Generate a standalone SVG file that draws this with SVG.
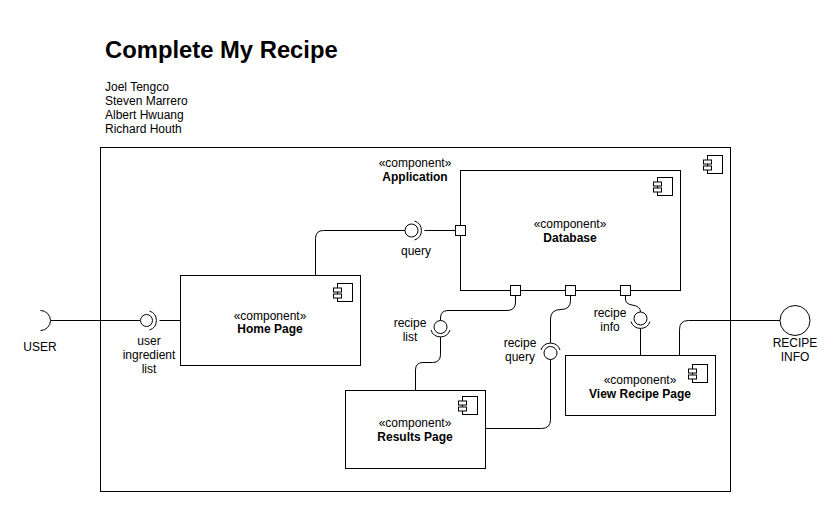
<svg xmlns="http://www.w3.org/2000/svg" width="839" height="513" viewBox="0 0 839 513">
<style>
.box{fill:#fff;stroke:#000;stroke-width:1}
.ic{fill:#fff;stroke:#000;stroke-width:1}
.ln{fill:none;stroke:#000;stroke-width:1}
.port{fill:#fff;stroke:#000;stroke-width:1}
text{font-family:"Liberation Sans",Arial,sans-serif;font-size:12px;fill:#000}
.c{text-anchor:middle}
.b{font-weight:bold}
</style>
<defs>
<g id="icon">
<rect class="ic" x="0" y="0" width="15" height="18"/>
<rect class="ic" x="-4" y="4.5" width="8" height="4"/>
<rect class="ic" x="-4" y="10.5" width="8" height="4"/>
</g>
</defs>
<rect width="839" height="513" fill="#fff"/>
<g id="title">
<text x="105" y="58" style="font-size:23.8px;font-weight:bold">Complete My Recipe</text>
<text x="105" y="91">Joel Tengco</text>
<text x="105" y="105">Steven Marrero</text>
<text x="105" y="119">Albert Hwuang</text>
<text x="105" y="133">Richard Houth</text>
</g>
<g id="application">
<rect class="box" x="100.5" y="147.5" width="630" height="344"/>
<use href="#icon" x="707.5" y="155.5"/>
<text class="c" x="415" y="167">«component»</text>
<text class="c b" x="415" y="181">Application</text>
</g>
<g id="database">
<rect class="box" x="460.5" y="170.5" width="220" height="120"/>
<use href="#icon" x="657.5" y="177.5"/>
<text class="c" x="570" y="228">«component»</text>
<text class="c b" x="570" y="242">Database</text>
</g>
<g id="home-page">
<rect class="box" x="180.5" y="275.5" width="180" height="90"/>
<use href="#icon" x="337.5" y="283.5"/>
<text class="c" x="270" y="320">«component»</text>
<text class="c b" x="270" y="333">Home Page</text>
</g>
<g id="results-page">
<rect class="box" x="345.5" y="390.5" width="140" height="78"/>
<use href="#icon" x="462.5" y="396.5"/>
<text class="c" x="415" y="427">«component»</text>
<text class="c b" x="415" y="441">Results Page</text>
</g>
<g id="view-recipe-page">
<rect class="box" x="565.5" y="355.5" width="150" height="60"/>
<use href="#icon" x="692.5" y="364.5"/>
<text class="c" x="640" y="384">«component»</text>
<text class="c b" x="640" y="398">View Recipe Page</text>
</g>
<g id="connectors">
<path class="ln" d="M40.5,310.5 A10,10 0 0 1 40.5,330.5"/>
<path class="ln" d="M50.5,320.5 H140"/>
<circle class="ln" cx="146.5" cy="320.5" r="6"/>
<path class="ln" d="M149.5,311 A10,10 0 0 1 149.5,330"/>
<path class="ln" d="M159.5,320.5 H180.5"/>
<circle class="ln" cx="411.5" cy="230.5" r="6.5"/>
<path class="ln" d="M414.5,221 A10,10 0 0 1 414.5,240"/>
<path class="ln" d="M405,230.5 H323.5 Q315.5,230.5 315.5,238.5 V275.5"/>
<path class="ln" d="M424.5,230.5 H455.5"/>
<rect class="port" x="455.5" y="225.5" width="10" height="10"/>
<path class="ln" d="M515.5,295.5 V302 Q515.5,310.5 507,310.5 H448 Q440.5,310.5 440.5,318 V320.5"/>
<circle class="ln" cx="440.5" cy="327" r="6.5"/>
<path class="ln" d="M431,330 A10,10 0 0 0 450,330"/>
<path class="ln" d="M440.5,337 V354.5 Q440.5,362.5 432.5,362.5 H423 Q415.5,362.5 415.5,370 V390.5"/>
<rect class="port" x="510.5" y="285.5" width="10" height="10"/>
<path class="ln" d="M570.5,295.5 V300.5 Q570.5,309.5 561,309.5 Q550.5,309.5 550.5,319 V343"/>
<path class="ln" d="M541,350 A10,10 0 0 1 560,350"/>
<circle class="ln" cx="550.5" cy="353" r="6.5"/>
<path class="ln" d="M550.5,359.5 V419.5 Q550.5,428.5 541.5,428.5 H485.5"/>
<rect class="port" x="565.5" y="285.5" width="10" height="10"/>
<path class="ln" d="M625.5,295.5 V299 Q625.5,304 632,305 Q640.5,306 640.5,312"/>
<circle class="ln" cx="640.5" cy="318.5" r="6.5"/>
<path class="ln" d="M631,321.5 A10,10 0 0 0 650,321.5"/>
<path class="ln" d="M640.5,328.5 V355.5"/>
<rect class="port" x="620.5" y="285.5" width="10" height="10"/>
<path class="ln" d="M780,320.5 H688.5 Q679.5,320.5 679.5,329.5 V355.5"/>
<circle class="ln" cx="795" cy="320.5" r="15"/>
</g>
<g id="labels">
<text class="c" x="40" y="351">USER</text>
<text class="c" x="149" y="345">user</text>
<text class="c" x="149" y="359">ingredient</text>
<text class="c" x="149" y="373">list</text>
<text class="c" x="416" y="255">query</text>
<text class="c" x="410" y="327">recipe</text>
<text class="c" x="410" y="341">list</text>
<text class="c" x="520" y="347">recipe</text>
<text class="c" x="520" y="361">query</text>
<text class="c" x="610" y="317">recipe</text>
<text class="c" x="610" y="331">info</text>
<text class="c" x="795" y="347">RECIPE</text>
<text class="c" x="795" y="361">INFO</text>
</g>
</svg>
